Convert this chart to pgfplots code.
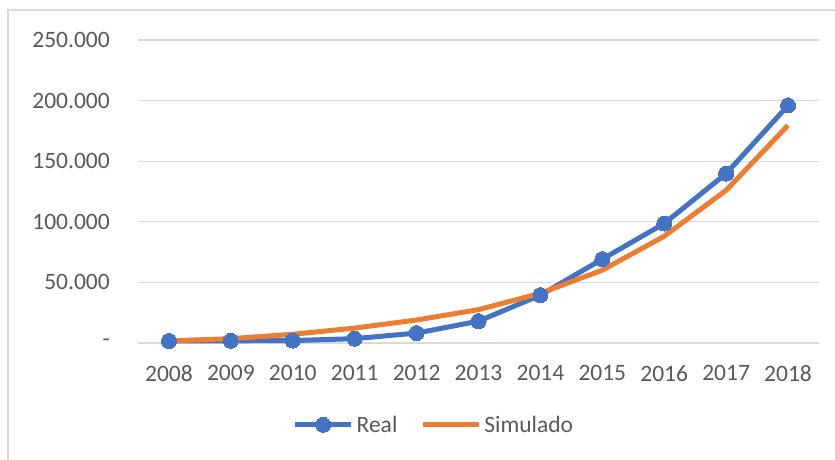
\documentclass[border=0pt]{standalone}
\usepackage{pgfplots}
\pgfplotsset{compat=1.18}
\usepackage{fontspec}
\setmainfont{Carlito}
\definecolor{cblue}{HTML}{4472C4}
\definecolor{corange}{HTML}{ED7D31}
\definecolor{cgrid}{HTML}{D9D9D9}
\definecolor{ctext}{HTML}{595959}
\newcommand\lbl{\fontsize{23.5}{28}\selectfont}
\begin{document}
\begin{tikzpicture}[x=1pt,y=1pt]
\useasboundingbox (0,0) rectangle (835,459);
\draw[cgrid, line width=1.5pt] (8,-5) -- (8,449) -- (840,449);
\begin{axis}[
  at={(138pt,116pt)}, anchor=south west,
  width=681pt, height=303pt, scale only axis,
  xmin=2007.5, xmax=2018.5, ymin=0, ymax=250000,
  clip=false,
  axis line style={draw=none},
  major tick length=0pt,
  tick style={draw=none},
  ymajorgrids, grid style={cgrid, line width=1.2pt},
  xtick={2008,2009,2010,2011,2012,2013,2014,2015,2016,2017,2018},
  xticklabels={2008,2009,2010,2011,2012,2013,2014,2015,2016,2017,2018},
  ytick={0,50000,100000,150000,200000,250000},
  yticklabels={-\hspace{11pt},50.000,100.000,150.000,200.000,250.000},
  scaled ticks=false,
  yticklabel style={anchor=east, inner sep=0pt, xshift=-28pt, font=\lbl, text=ctext},
  xticklabel style={anchor=north, inner sep=0pt, yshift=-22pt, font=\lbl, text=ctext},
  legend columns=2,
  legend style={at={(axis description cs:0.433,-0.27)}, anchor=center, draw=none, fill=none,
    font=\lbl, text=ctext, inner sep=0pt,
    nodes={inner sep=0pt, text=ctext},
    /tikz/column 2/.style={column sep=23pt},
    /tikz/column 1/.style={column sep=3pt},
    /tikz/column 3/.style={column sep=3pt}},
  legend image code/.code={\draw[mark repeat=2,mark phase=2,#1] plot coordinates {(0pt,0pt) (28pt,0pt) (56pt,0pt)};},
]
\addplot[cblue, line width=5pt, mark=*, mark size=7.5pt, mark options={solid, fill=cblue, draw=cblue, line width=0pt}] coordinates {
(2008,1700) (2009,1800) (2010,2000) (2011,3600) (2012,8200) (2013,18000) (2014,39500) (2015,69200) (2016,98600) (2017,139800) (2018,196000)};
\addlegendentry{Real}
\addplot[corange, line width=5pt, no marks] coordinates {
(2008,1700) (2009,3600) (2010,7200) (2011,12300) (2012,19000) (2013,27500) (2014,41000) (2015,60100) (2016,88100) (2017,126000) (2018,179600)};
\addlegendentry{Simulado}
\end{axis}
\end{tikzpicture}
\end{document}
